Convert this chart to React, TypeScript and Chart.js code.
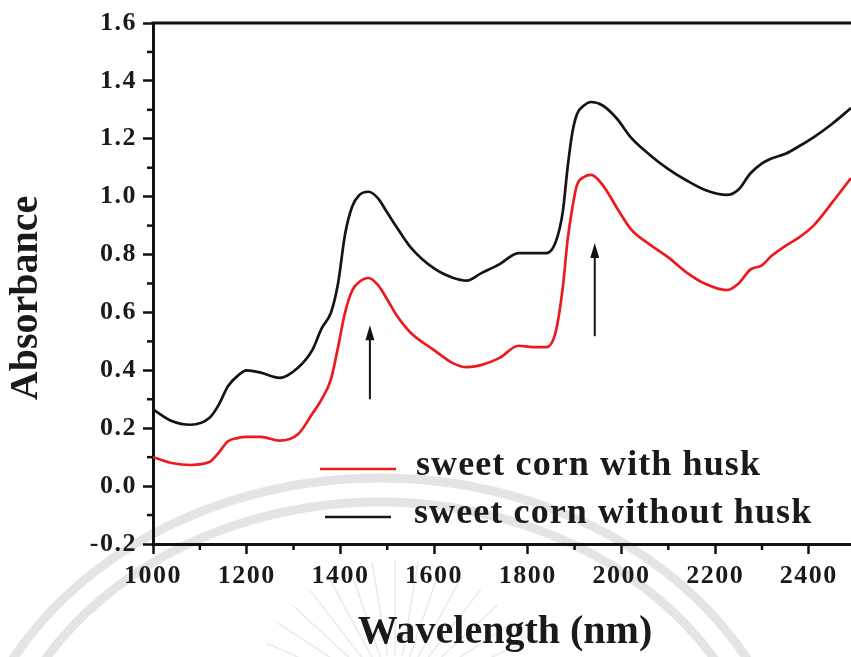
import React, { useEffect, useRef } from "react";
import { Chart, registerables } from "chart.js";

Chart.register(...registerables);

// NIR absorbance spectra of sweet corn, read at these wavelengths (nm)
const wavelengths = [
  1000, 1040, 1080, 1120, 1140, 1160, 1180, 1200, 1230, 1270, 1310, 1340, 1360, 1380,
  1395, 1410, 1425, 1440, 1460, 1480, 1500, 1520, 1550, 1600, 1640, 1670, 1700, 1740,
  1780, 1810, 1840, 1860, 1875, 1885, 1895, 1905, 1920, 1935, 1960, 1990, 2020, 2060,
  2100, 2140, 2180, 2225, 2250, 2275, 2300, 2320, 2350, 2380, 2410, 2450, 2490,
];

const withHusk = [
  0.1, 0.08, 0.073, 0.083, 0.115, 0.155, 0.166, 0.17, 0.17, 0.157, 0.18, 0.25, 0.3, 0.37,
  0.48, 0.6, 0.675, 0.705, 0.719, 0.695, 0.645, 0.59, 0.53, 0.47, 0.425, 0.411, 0.418, 0.443,
  0.485, 0.48, 0.48, 0.535, 0.69, 0.85, 0.96, 1.04, 1.068, 1.075, 1.04, 0.962, 0.888, 0.835,
  0.79, 0.737, 0.698, 0.677, 0.7, 0.748, 0.763, 0.795, 0.83, 0.86, 0.9, 0.98, 1.064,
];

const withoutHusk = [
  0.265, 0.225, 0.212, 0.235, 0.28, 0.345, 0.38, 0.4, 0.392, 0.374, 0.41, 0.47, 0.545, 0.6,
  0.7, 0.87, 0.965, 1.005, 1.017, 0.995, 0.945, 0.895, 0.825, 0.752, 0.72, 0.71, 0.735, 0.767,
  0.805, 0.805, 0.805, 0.845, 0.95, 1.1, 1.22, 1.285, 1.315, 1.327, 1.315, 1.27, 1.205, 1.145,
  1.095, 1.055, 1.022, 1.006, 1.025, 1.08, 1.115, 1.132, 1.148, 1.175, 1.205, 1.252, 1.306,
];

const seriesLabels = ["sweet corn with husk", "sweet corn without husk"];
const seriesColors = ["#ec1a1f", "#141414"];

const xTicks = [1000, 1200, 1400, 1600, 1800, 2000, 2200, 2400];
const xMinorTicks = [1100, 1300, 1500, 1700, 1900, 2100, 2300];
const yTicks = [-0.2, 0, 0.2, 0.4, 0.6, 0.8, 1.0, 1.2, 1.4, 1.6];
const yMinorTicks = [-0.1, 0.1, 0.3, 0.5, 0.7, 0.9, 1.1, 1.3, 1.5];

const xTitle = "Wavelength (nm)";
const yTitle = "Absorbance";

// water absorption bands marked with arrows
const arrowWavelengths = [1463, 1943];
const arrowFrom = [0.3, 0.518];
const arrowTo = [0.556, 0.84];

const SERIF = '"Liberation Serif", "Times New Roman", serif';
const INK = "#1a1a1a";

const sealPlugin = {
  id: "seal",
  beforeDraw(chart: any) {
    const ctx = chart.ctx;
    ctx.save();
    ctx.strokeStyle = "rgba(120,120,120,0.2)";
    ctx.lineWidth = 9;
    ctx.beginPath();
    ctx.ellipse(380, 830, 420, 352, 0, Math.PI, 2 * Math.PI);
    ctx.stroke();
    ctx.beginPath();
    ctx.ellipse(380, 830, 392, 328, 0, Math.PI, 2 * Math.PI);
    ctx.stroke();
    ctx.strokeStyle = "rgba(120,120,120,0.16)";
    ctx.lineWidth = 1.5;
    for (let i = 0; i < 17; i++) {
      const a = Math.PI * (1.08 + (0.84 * i) / 16);
      const cx = 395;
      const cy = 700;
      ctx.beginPath();
      ctx.moveTo(cx + Math.cos(a) * 45, cy + Math.sin(a) * 45);
      ctx.lineTo(cx + Math.cos(a) * 140, cy + Math.sin(a) * 140);
      ctx.stroke();
    }
    ctx.restore();
    // slightly wider set tick labels
    ctx.letterSpacing = "1.5px";
  },
};

const framePlugin = {
  id: "frame",
  afterDatasetsDraw(chart: any) {
    const { ctx, chartArea, scales } = chart;
    const xs = scales.x;
    const ys = scales.y;
    ctx.save();
    // top frame line
    ctx.strokeStyle = "#111";
    ctx.lineWidth = 3;
    ctx.beginPath();
    ctx.moveTo(chartArea.left - 1.5, chartArea.top);
    ctx.lineTo(chartArea.right, chartArea.top);
    ctx.stroke();

    // minor ticks
    ctx.lineWidth = 2.5;
    xMinorTicks.forEach((v) => {
      const px = xs.getPixelForValue(v);
      ctx.beginPath();
      ctx.moveTo(px, chartArea.bottom);
      ctx.lineTo(px, chartArea.bottom + 6);
      ctx.stroke();
    });
    yMinorTicks.forEach((v) => {
      const py = ys.getPixelForValue(v);
      ctx.beginPath();
      ctx.moveTo(chartArea.left, py);
      ctx.lineTo(chartArea.left - 6, py);
      ctx.stroke();
    });

    // arrows
    ctx.lineWidth = 2;
    ctx.fillStyle = "#111";
    arrowWavelengths.forEach((w, i) => {
      const px = xs.getPixelForValue(w);
      const y1 = ys.getPixelForValue(arrowFrom[i]);
      const y2 = ys.getPixelForValue(arrowTo[i]);
      ctx.beginPath();
      ctx.moveTo(px, y1);
      ctx.lineTo(px, y2 + 10);
      ctx.stroke();
      ctx.beginPath();
      ctx.moveTo(px, y2);
      ctx.lineTo(px - 4.5, y2 + 15);
      ctx.lineTo(px + 4.5, y2 + 15);
      ctx.closePath();
      ctx.fill();
    });

    // legend
    const rows = [
      { y: 466, x1: 320, x2: 396, tx: 416 },
      { y: 514, x1: 325, x2: 391, tx: 414 },
    ];
    ctx.font = `bold 36px ${SERIF}`;
    ctx.letterSpacing = "1.1px";
    ctx.textBaseline = "middle";
    ctx.textAlign = "left";
    chart.data.datasets.forEach((ds: any, i: number) => {
      const r = rows[i];
      ctx.strokeStyle = ds.borderColor;
      ctx.lineWidth = 2.5;
      ctx.beginPath();
      ctx.moveTo(r.x1, r.y + 3);
      ctx.lineTo(r.x2, r.y + 3);
      ctx.stroke();
      ctx.fillStyle = INK;
      ctx.fillText(ds.label, r.tx, r.y);
    });

    // axis titles
    ctx.letterSpacing = "0px";
    ctx.font = `bold 40px ${SERIF}`;
    ctx.textAlign = "center";
    ctx.textBaseline = "middle";
    ctx.fillStyle = INK;
    ctx.fillText(xTitle, 505, 633);
    ctx.translate(27, 298);
    ctx.rotate(-Math.PI / 2);
    ctx.fillText(yTitle, 0, 0);
    ctx.restore();
  },
};

export default function App() {
  const canvasRef = useRef<HTMLCanvasElement | null>(null);

  useEffect(() => {
    if (!canvasRef.current) return;
    const tickFont = { family: SERIF, size: 26, weight: "bold" as const };
    const chart = new Chart(canvasRef.current, {
      type: "line",
      data: {
        datasets: [withHusk, withoutHusk].map((vals, i) => ({
          label: seriesLabels[i],
          data: wavelengths.map((w, j) => ({ x: w, y: vals[j] })),
          borderColor: seriesColors[i],
          borderWidth: 2.7,
          pointRadius: 0,
          fill: false,
          cubicInterpolationMode: "monotone" as const,
        })),
      },
      options: {
        animation: false,
        responsive: false,
        devicePixelRatio: 1,
        layout: { padding: { top: 23, right: 0, left: 0, bottom: 0 } },
        plugins: {
          legend: { display: false },
          tooltip: { enabled: false },
        },
        scales: {
          x: {
            type: "linear",
            min: 1000,
            max: 2490,
            afterBuildTicks: (s: any) => {
              s.ticks = xTicks.map((v) => ({ value: v }));
            },
            afterFit: (s: any) => {
              s.height = 113;
            },
            ticks: {
              font: tickFont,
              color: INK,
              padding: 7,
              maxRotation: 0,
              autoSkip: false,
              callback: (v: any) => String(v),
            },
            grid: {
              drawOnChartArea: false,
              drawTicks: true,
              tickLength: 10,
              tickWidth: 2.5,
              tickColor: "#111",
            },
            border: { display: true, width: 3, color: "#111" },
          },
          y: {
            type: "linear",
            min: -0.2,
            max: 1.6,
            afterBuildTicks: (s: any) => {
              s.ticks = yTicks.map((v) => ({ value: v }));
            },
            afterFit: (s: any) => {
              s.width = 153;
            },
            ticks: {
              font: tickFont,
              color: INK,
              padding: 6,
              autoSkip: false,
              callback: (v: any) => Number(v).toFixed(1),
            },
            grid: {
              drawOnChartArea: false,
              drawTicks: true,
              tickLength: 10,
              tickWidth: 2.5,
              tickColor: "#111",
            },
            border: { display: true, width: 3, color: "#111" },
          },
        },
      },
      plugins: [sealPlugin, framePlugin],
    });
    return () => chart.destroy();
  }, []);

  return (
    <div style={{ position: "absolute", left: 0, top: 0, width: 851, height: 657, background: "#fff" }}>
      <canvas ref={canvasRef} width={851} height={657} style={{ display: "block" }} />
    </div>
  );
}
